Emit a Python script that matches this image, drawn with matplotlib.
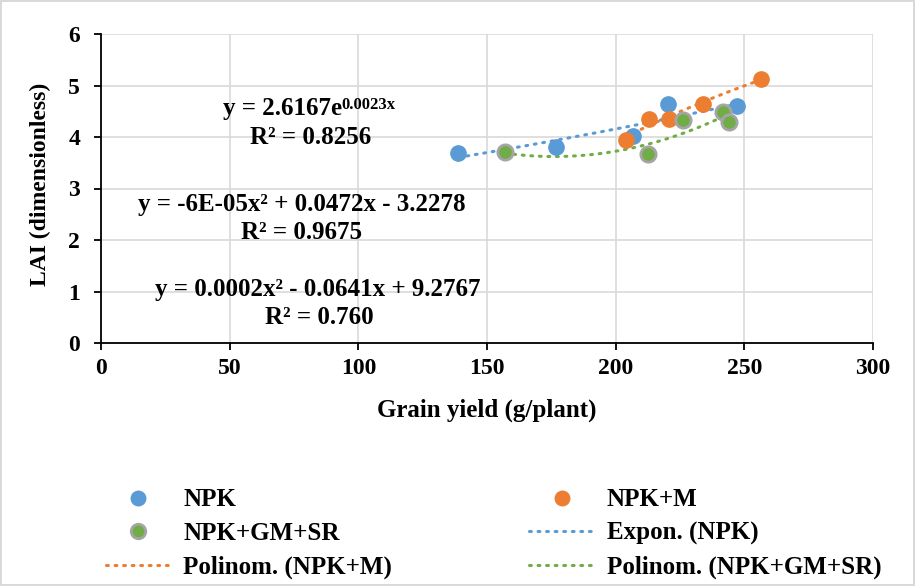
import matplotlib.pyplot as plt
import numpy as np

# data
npk_x = [138.9, 176.8, 206.9, 220.5, 247.0]
npk_y = [3.69, 3.81, 4.02, 4.65, 4.61]
npkm_x = [203.9, 213.1, 220.9, 233.8, 256.4]
npkm_y = [3.95, 4.35, 4.35, 4.65, 5.12]
gmsr_x = [157.1, 212.7, 226.3, 241.6, 244.2]
gmsr_y = [3.70, 3.67, 4.33, 4.48, 4.29]

x_ticks = [0, 50, 100, 150, 200, 250, 300]
y_ticks = [0, 1, 2, 3, 4, 5, 6]

blue = '#5B9BD5'
orange = '#ED7D31'
green = '#70AD47'

plt.rcParams['font.family'] = ['Liberation Serif', 'DejaVu Serif']
plt.rcParams['font.weight'] = 'bold'

fig = plt.figure(figsize=(9.15, 5.86), dpi=100)
fig.patch.set_edgecolor('#d9d9d9')
fig.patch.set_linewidth(1.5)
ax = fig.add_axes([101 / 915, 1 - 343 / 586, 772 / 915, 309 / 586])

dots = (0, (0.6, 2.2))

# trend lines (fitted from the points, drawn over data range like Excel)
bx = np.linspace(min(npk_x), max(npk_x), 100)
b_coef = np.polyfit(npk_x, np.log(npk_y), 1)
t1, = ax.plot(bx, np.exp(np.polyval(b_coef, bx)), ls=dots, lw=2.2, color=blue,
              dash_capstyle='round', zorder=2)

ox = np.linspace(min(npkm_x), max(npkm_x), 100)
o_coef = np.polyfit(npkm_x, npkm_y, 2)
t2, = ax.plot(ox, np.polyval(o_coef, ox), ls=dots, lw=2.2, color=orange,
              dash_capstyle='round', zorder=2)

gx = np.linspace(min(gmsr_x), max(gmsr_x), 100)
g_coef = np.polyfit(gmsr_x, gmsr_y, 2)
t3, = ax.plot(gx, np.polyval(g_coef, gx), ls=dots, lw=2.2, color=green,
              dash_capstyle='round', zorder=2)

s1, = ax.plot(npk_x, npk_y, 'o', ms=11, color=blue, mec=blue, zorder=3)
s2, = ax.plot(npkm_x, npkm_y, 'o', ms=11, color=orange, mec=orange, zorder=3)
s3, = ax.plot(gmsr_x, gmsr_y, 'o', ms=11, color=green, mec='#A5A5A5', mew=2, zorder=3)

ax.set_xlim(0, 300)
ax.set_ylim(0, 6)
ax.set_xticks(x_ticks)
ax.set_yticks(y_ticks)
ax.grid(True, color='#d9d9d9', lw=1.2)
ax.set_axisbelow(True)
for s in ['top', 'right']:
    ax.spines[s].set_visible(False)
for s in ['left', 'bottom']:
    ax.spines[s].set_color('black')
    ax.spines[s].set_linewidth(1.3)
ax.tick_params(labelsize=17, length=5, width=1.3, color='black', direction='out')
ax.tick_params(axis='x', pad=6)
ax.tick_params(axis='y', pad=10)
for lab in ax.get_xticklabels() + ax.get_yticklabels():
    lab.set_fontweight('bold')

fig.text(487 / 915, 1 - 410 / 586, 'Grain yield (g/plant)', fontsize=18,
         fontweight='bold', ha='center', va='center')
fig.text(40 / 915, 1 - 184 / 586, 'LAI (dimensionless)', fontsize=17,
         fontweight='bold', ha='center', va='center', rotation=90)

# equations
fs = 18
t = ax.text(47.3, 4.56, 'y = 2.6167e', fontsize=fs, fontweight='bold', ha='left', va='center')
ax.annotate('0.0023x', xy=(1, 1.0), xycoords=t, fontsize=12, fontweight='bold', va='top', ha='left')
ax.text(81.4, 4.0, 'R² = 0.8256', fontsize=fs, fontweight='bold', ha='center', va='center')
ax.text(77.9, 2.68, 'y = -6E-05x² + 0.0472x - 3.2278', fontsize=fs, fontweight='bold', ha='center', va='center')
ax.text(78.1, 2.14, 'R² = 0.9675', fontsize=fs, fontweight='bold', ha='center', va='center')
ax.text(84.3, 1.03, 'y = 0.0002x² - 0.0641x + 9.2767', fontsize=fs, fontweight='bold', ha='center', va='center')
ax.text(84.7, 0.49, 'R² = 0.760', fontsize=fs, fontweight='bold', ha='center', va='center')

handles = [s1, s3, t2, s2, t1, t3]
labels = ['NPK', 'NPK+GM+SR', 'Polinom. (NPK+M)', 'NPK+M', 'Expon. (NPK)', 'Polinom. (NPK+GM+SR)']
fig.legend(handles, labels, ncol=2, loc='upper left', bbox_to_anchor=(83 / 915, 1 - 466 / 586),
           frameon=False, prop={'size': 18, 'weight': 'bold'}, columnspacing=5.5,
           handlelength=2.6, handletextpad=0.5, labelspacing=0.42, markerscale=0.95)

fig.savefig('out.png', dpi=100)
